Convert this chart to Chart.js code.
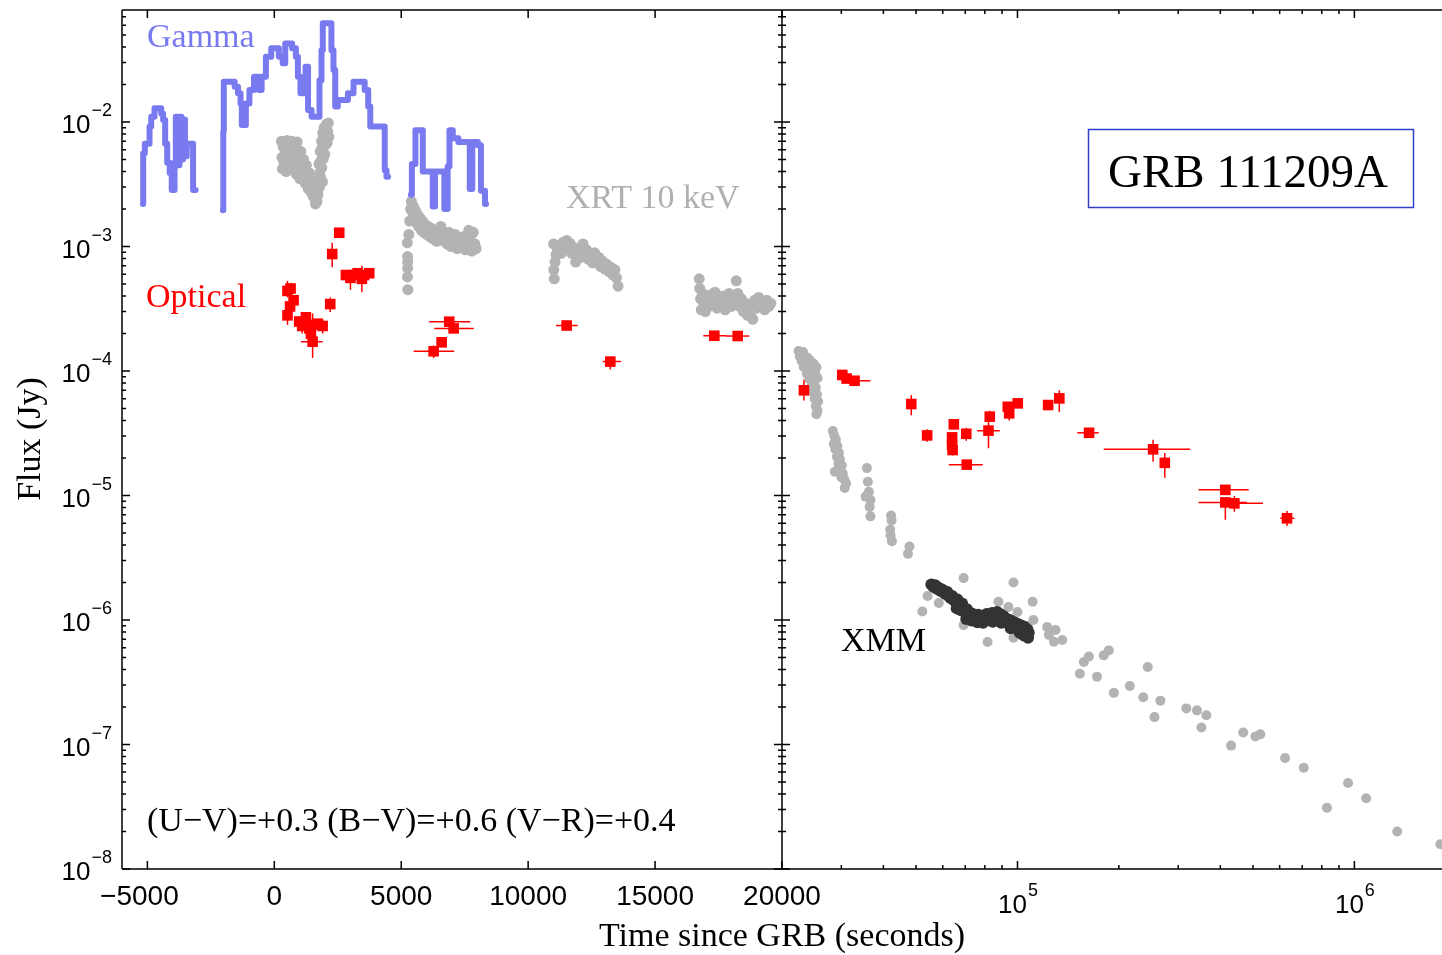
<!DOCTYPE html>
<html>
<head>
<meta charset="utf-8">
<script src="https://cdn.jsdelivr.net/npm/chart.js@4.4.1/dist/chart.umd.min.js"></script>
<style>
  html, body { margin: 0; padding: 0; background: #fff; }
  #wrap { width: 1442px; height: 955px; }
</style>
</head>
<body>
<div id="wrap"><canvas id="grb" width="1442" height="955"></canvas></div>
<script>
// ---- axis ticks ----
const xTicks = [-5000, 0, 5000, 10000, 15000, 20000];
const xTickLabels = ['\u22125000', '0', '5000', '10000', '15000', '20000'];
const x2Ticks = [1e5, 1e6];
const x2TickExps = ['5', '6'];
const yTicks = [1e-8, 1e-7, 1e-6, 1e-5, 1e-4, 1e-3, 1e-2];
const yTickExps = ['\u22128', '\u22127', '\u22126', '\u22125', '\u22124', '\u22123', '\u22122'];

// ---- gamma (BAT) light curve, histogram steps, null = gap ----
const gammaT = [
    -5175, -5165, -5100, -4915, -4850, -4720, -4455, -4380, -4300, -4220, -4120, -4040, -3930, -3880, -3800, -3740, -3660, -3600, -3520, -3450, -3200, -3100,
    -3000,
    -2025, -2010, -1990, -1560, -1430, -1330, -1280, -1120, -980, -800, -600, -500, -330, -120, 180, 330, 430, 700, 850, 930, 1030, 1230, 1330, 1470, 1780, 1860, 1910, 2250, 2330, 2400, 2500, 2900, 3120, 3560, 3700, 3780, 4350, 4420, 4480,
    4600,
    5380, 5420, 5560, 5850, 6240, 6330, 6700, 6830, 6900, 7030, 7250, 7700, 7800, 8020, 8140, 8300, 8340
];
const gammaF = [
    2.2e-3, 5.6e-3, 6.7e-3, 9.2e-3, 1.1e-2, 1.29e-2, 1.17e-2, 1.04e-2, 6.7e-3, 4.7e-3, 3.9e-3, 2.85e-3, 4.7e-3, 1.1e-2, 4.5e-3, 1.1e-2, 5.0e-3, 1.05e-2, 5.3e-3, 6.7e-3, 2.85e-3, 2.85e-3,
    null,
    1.96e-3, 8.4e-3, 2.11e-2, 1.92e-2, 1.70e-2, 1.41e-2, 9.46e-3, 1.41e-2, 1.81e-2, 2.31e-2, 1.81e-2, 2.31e-2, 3.34e-2, 3.91e-2, 3.34e-2, 2.96e-2, 4.28e-2, 3.91e-2, 3.34e-2, 2.31e-2, 1.70e-2, 2.78e-2, 1.25e-2, 1.10e-2, 2.17e-2, 3.78e-2, 6.2e-2, 3.78e-2, 2.62e-2, 1.33e-2, 1.50e-2, 1.70e-2, 2.11e-2, 1.81e-2, 1.33e-2, 9.2e-3, 4.1e-3, 3.63e-3, 3.63e-3,
    null,
    2.6e-3, 4.6e-3, 8.6e-3, 4.0e-3, 2.1e-3, 4.0e-3, 2.0e-3, 4.4e-3, 8.6e-3, 7.4e-3, 6.9e-3, 2.9e-3, 6.9e-3, 6.5e-3, 2.8e-3, 2.2e-3, 2.2e-3
];

// ---- XRT 10 keV, left (linear time) ----
const xrtLT = [
    280, 300, 320, 350, 380, 420, 440, 470, 500, 530, 560, 600, 640, 660, 700, 740, 770, 800, 840, 870,
    900, 940, 980, 1010, 1040, 1080, 1120, 1150, 1190, 1230, 1260, 1300, 1340, 1380, 1420, 1460, 1500, 1540, 1580, 1620,
    1650, 1680, 1700, 1720, 1740, 1760, 1780, 1790, 1810, 1820, 1840, 1860, 1870, 1880, 1900, 1910, 1930, 1940, 1960, 1990,
    2000, 2020, 2060, 2080, 2100, 2130, 2150,
    5240, 5250, 5255, 5250, 5245, 5260, 5300, 5330, 5370, 5400, 5440, 5480, 5520, 5560, 5600, 5640, 5690, 5740, 5790, 5840,
    5890, 5940, 6000, 6060, 6120, 6180, 6250, 6320, 6400, 6480, 6560, 6640, 6720, 6800, 6880, 6960, 7040, 7120, 7200, 7280,
    7360, 7440, 7520, 7600, 7660, 7720, 7780, 7840, 7900, 7950,
    11000, 11010, 11030, 11060, 11100, 11150, 11220, 11300, 11380, 11450, 11520, 11580, 11650, 11720, 11800, 11870, 11940, 12000, 12080, 12160,
    12230, 12300, 12380, 12460, 12540, 12620, 12700, 12780, 12860, 12940, 13020, 13100, 13180, 13260, 13340, 13420, 13480, 13540,
    16740, 16760, 16790, 16820, 16870, 16920, 16980, 17050, 17120, 17200, 17280, 17360, 17440, 17520, 17600, 17680, 17760, 17840, 17920, 18000,
    18080, 18160, 18200, 18260, 18330, 18400, 18480, 18560, 18640, 18720, 18800, 18850, 18920, 19000, 19080, 19160, 19240, 19320, 19400, 19480, 19560
];
const xrtLF = [
    7.0e-3, 5.2e-3, 4.2e-3, 6.3e-3, 4.7e-3, 6.8e-3, 5.6e-3, 4.0e-3, 7.1e-3, 6.0e-3, 4.9e-3, 6.6e-3, 5.4e-3, 4.3e-3, 7.0e-3, 5.9e-3, 4.6e-3, 6.5e-3, 5.1e-3, 3.8e-3,
    6.9e-3, 5.5e-3, 4.2e-3, 3.5e-3, 5.8e-3, 4.6e-3, 3.6e-3, 5.0e-3, 4.1e-3, 3.2e-3, 4.5e-3, 3.7e-3, 2.9e-3, 3.9e-3, 3.2e-3, 2.7e-3, 3.4e-3, 2.5e-3, 2.9e-3, 2.2e-3,
    2.45e-3, 2.3e-3, 2.8e-3, 2.6e-3, 3.4e-3, 4.6e-3, 3.0e-3, 3.9e-3, 5.8e-3, 3.6e-3, 4.9e-3, 7.0e-3, 4.3e-3, 6.2e-3, 3.3e-3, 8.2e-3, 5.1e-3, 7.4e-3, 9.0e-3, 5.5e-3,
    7.8e-3, 6.6e-3, 9.6e-3, 6.8e-3, 8.4e-3, 9.8e-3, 7.6e-3,
    1.07e-3, 8.3e-4, 7.5e-4, 6.7e-4, 5.7e-4, 4.5e-4, 1.25e-3, 1.6e-3, 2.0e-3, 2.3e-3, 1.9e-3, 2.1e-3, 1.7e-3, 1.95e-3, 1.55e-3, 1.8e-3, 1.45e-3, 1.7e-3, 1.35e-3, 1.6e-3,
    1.3e-3, 1.5e-3, 1.25e-3, 1.45e-3, 1.2e-3, 1.4e-3, 1.15e-3, 1.32e-3, 1.1e-3, 1.28e-3, 1.45e-3, 1.12e-3, 1.22e-3, 1.05e-3, 1.3e-3, 1.0e-3, 1.15e-3, 1.25e-3, 9.6e-4, 1.1e-3,
    1.0e-3, 1.2e-3, 9.4e-4, 1.05e-3, 1.35e-3, 1.15e-3, 9.2e-4, 1.3e-3, 1.05e-3, 9.6e-4,
    1.05e-3, 6.5e-4, 5.5e-4, 7.5e-4, 8.6e-4, 9.6e-4, 1.0e-3, 8.8e-4, 1.08e-3, 9.6e-4, 1.12e-3, 1.0e-3, 1.06e-3, 8.8e-4, 9.8e-4, 7.5e-4, 8.4e-4, 9.2e-4, 8.2e-4, 1.05e-3,
    8.6e-4, 9.4e-4, 7.9e-4, 8.6e-4, 7.4e-4, 8.9e-4, 7.6e-4, 8.2e-4, 6.9e-4, 7.6e-4, 6.6e-4, 7.2e-4, 6.3e-4, 6.8e-4, 5.9e-4, 6.5e-4, 5.6e-4, 4.8e-4,
    5.5e-4, 4.6e-4, 3.8e-4, 3.1e-4, 4.2e-4, 3.5e-4, 3.0e-4, 3.9e-4, 3.3e-4, 4.1e-4, 3.5e-4, 4.3e-4, 3.2e-4, 3.8e-4, 3.4e-4, 4.0e-4, 3.1e-4, 3.6e-4, 4.2e-4, 3.3e-4,
    3.8e-4, 3.5e-4, 5.3e-4, 4.2e-4, 3.3e-4, 3.8e-4, 3.0e-4, 3.5e-4, 2.8e-4, 3.3e-4, 2.7e-4, 2.6e-4, 3.7e-4, 3.2e-4, 3.9e-4, 3.4e-4, 3.6e-4, 3.1e-4, 3.7e-4, 3.3e-4, 3.5e-4
];

// ---- XRT 10 keV, right (log time) ----
const xrtRT = [
    22400, 22700, 23100, 22600, 23300, 23800, 22900, 23600, 24200, 24800, 23200, 24000, 24600, 25300, 23700, 24400, 25100, 24100, 24900, 25500,
    24500, 25200, 24700, 25400, 25000, 25600, 25200, 25500, 25300,
    28300, 28600, 28900, 28500, 29200, 28800, 29500, 29100, 29700, 29400, 30100, 29800, 28700, 30300, 30000, 30600, 31000, 30700,
    35730, 35970, 36220, 35400, 36600, 36400, 36600,
    42140, 42300, 41900, 42000, 42400, 47300, 47800,
    52200, 54100, 58400, 69200, 97300, 69200, 81500, 87800, 94000, 100000, 110900, 111500, 97300, 107100,
    122500, 129700, 123900, 128300, 135800, 157400, 162900, 153100, 172200, 180300, 186600, 193200, 215500, 243600, 236200, 265500,
    255000, 317100, 341000, 363600, 351500, 430600, 467700, 508500, 526000, 622700, 707400, 957900, 829100, 1084000, 1340000, 1800000
];
const xrtRF = [
    1.45e-4, 1.38e-4, 1.42e-4, 1.3e-4, 1.32e-4, 1.28e-4, 1.2e-4, 1.18e-4, 1.22e-4, 1.15e-4, 1.08e-4, 1.05e-4, 1.02e-4, 1.07e-4, 9.5e-5, 9.2e-5, 9.6e-5, 8.6e-5, 8.3e-5, 8.8e-5,
    7.6e-5, 7.4e-5, 6.8e-5, 6.5e-5, 6.0e-5, 5.7e-5, 5.2e-5, 4.8e-5, 4.5e-5,
    3.3e-5, 3.0e-5, 2.8e-5, 2.6e-5, 2.5e-5, 2.35e-5, 2.2e-5, 2.05e-5, 1.95e-5, 1.8e-5, 1.75e-5, 1.62e-5, 1.55e-5, 1.5e-5, 1.4e-5, 1.35e-5, 1.25e-5, 1.15e-5,
    1.66e-5, 1.29e-5, 1.07e-5, 9.8e-6, 9.2e-6, 8.1e-6, 6.8e-6,
    6.9e-6, 6.3e-6, 5.3e-6, 4.8e-6, 4.3e-6, 3.4e-6, 3.9e-6,
    1.17e-6, 1.56e-6, 1.37e-6, 2.17e-6, 2.0e-6, 9.1e-7, 6.65e-7, 1.4e-6, 1.27e-6, 1.16e-6, 1.4e-6, 1.0e-6, 7.2e-7, 8.9e-7,
    8.8e-7, 8.3e-7, 7.6e-7, 6.7e-7, 6.9e-7, 4.6e-7, 5.1e-7, 3.7e-7, 3.5e-7, 5.2e-7, 5.7e-7, 2.6e-7, 2.95e-7, 4.2e-7, 2.4e-7, 2.25e-7,
    1.66e-7, 1.95e-7, 1.88e-7, 1.72e-7, 1.37e-7, 9.8e-8, 1.25e-7, 1.16e-7, 1.21e-7, 7.8e-8, 6.5e-8, 4.9e-8, 3.1e-8, 3.7e-8, 2.0e-8, 1.58e-8
];

// ---- XMM ----
const xmmT = [
    55500, 56300, 57000, 57600, 58300, 59000, 59700, 60400, 61200, 61900, 62600, 63300, 64000, 64800, 65500, 66300, 67000, 67800, 68500, 69300,
    70000, 70800, 71600, 72400, 73200, 74000, 74800, 75600, 76500, 77400, 78300, 79200, 80100, 81000, 82000, 83000, 84000, 85000, 86000, 87000,
    88000, 89000, 90000, 91000, 92000, 93000, 94000, 95000, 96000, 97000, 98000, 99000, 100000, 101000, 102000, 103000, 104000, 105000, 106000, 107000,
    107500, 108000,
    66000, 68000, 70500, 73000, 76000, 79000, 84500, 89500, 95500, 101500, 104500
];
const xmmF = [
    1.93e-6, 1.85e-6, 1.9e-6, 1.78e-6, 1.82e-6, 1.72e-6, 1.76e-6, 1.66e-6, 1.62e-6, 1.68e-6, 1.55e-6, 1.5e-6, 1.56e-6, 1.44e-6, 1.4e-6, 1.46e-6, 1.33e-6, 1.28e-6, 1.36e-6, 1.2e-6,
    1.15e-6, 1.22e-6, 1.1e-6, 1.06e-6, 1.13e-6, 1.02e-6, 1.08e-6, 1.0e-6, 1.1e-6, 1.04e-6, 9.8e-7, 1.08e-6, 1.02e-6, 1.12e-6, 1.0e-6, 1.07e-6, 1.14e-6, 1.04e-6, 1.1e-6, 1.16e-6,
    1.05e-6, 1.11e-6, 1.0e-6, 1.07e-6, 9.7e-7, 1.02e-6, 9.4e-7, 1.0e-6, 9.1e-7, 9.7e-7, 8.8e-7, 9.4e-7, 8.6e-7, 9.2e-7, 8.4e-7, 9.0e-7, 8.1e-7, 8.8e-7, 7.6e-7, 8.4e-7,
    7.2e-7, 7.9e-7,
    1.24e-6, 1.2e-6, 1.02e-6, 9.9e-7, 9.6e-7, 9.5e-7, 9.7e-7, 9.5e-7, 8.6e-7, 7.9e-7, 7.5e-7
];

// ---- optical, left (linear time); null = no error bar ----
const optLT = [520, 640, 760, 620, 520, 980, 1100, 1245, 1380, 1509, 1442, 1509, 1706, 1903, 2203, 2281, 2557, 2821, 3000, 3150, 3282, 3450, 3542, 3739, 6891, 7065, 6592, 6277, 11516, 13236, 17333, 18255];
const optLF = [4.4e-4, 4.6e-4, 3.7e-4, 3.3e-4, 2.8e-4, 2.5e-4, 2.3e-4, 2.7e-4, 2.2e-4, 2.35e-4, 2.0e-4, 1.72e-4, 2.4e-4, 2.3e-4, 3.45e-4, 8.7e-4, 1.29e-3, 5.9e-4, 5.6e-4, 5.9e-4, 6.1e-4, 5.5e-4, 5.9e-4, 6.1e-4, 2.49e-4, 2.2e-4, 1.7e-4, 1.44e-4, 2.32e-4, 1.19e-4, 1.92e-4, 1.91e-4];
const optLTlo = [null, null, null, null, null, null, null, null, null, null, null, 1050, null, null, null, null, null, null, null, null, null, null, null, null, 6103, 6300, null, 5489, 11096, 12936, 16900, 17794];
const optLThi = [null, null, null, null, null, null, null, null, null, null, null, 1900, null, null, null, null, null, null, null, null, null, null, null, null, 7719, 7853, null, 7089, 11950, 13656, 17794, 18712];
const optLFlo = [3.9e-4, 4.1e-4, null, null, 2.35e-4, null, 2.0e-4, null, null, 2.0e-4, null, 1.27e-4, null, 2.0e-4, 2.98e-4, 6.8e-4, null, null, 4.5e-4, null, null, 4.3e-4, null, null, null, null, null, 1.27e-4, null, 1.03e-4, null, null];
const optLFhi = [5.3e-4, 5.1e-4, null, null, 3.2e-4, null, 2.7e-4, null, null, 2.9e-4, null, 2.1e-4, null, 2.6e-4, 3.9e-4, 1.07e-3, null, null, 6.3e-4, null, null, 7.0e-4, null, null, null, null, null, 1.6e-4, null, 1.3e-4, null, null];

// ---- optical, right (log time) ----
const optRT = [23230, 30190, 31100, 32840, 48390, 53930, 64730, 63960, 63960, 64190, 70460, 70700, 82750, 82030, 93600, 94480, 100200, 123300, 133100, 163100, 252700, 273700, 414000, 414000, 440300, 631000];
const optRF = [7.0e-5, 9.3e-5, 8.7e-5, 8.35e-5, 5.43e-5, 3.04e-5, 3.73e-5, 2.93e-5, 2.55e-5, 2.32e-5, 3.13e-5, 1.77e-5, 4.3e-5, 3.32e-5, 5.16e-5, 4.57e-5, 5.5e-5, 5.33e-5, 6.03e-5, 3.19e-5, 2.35e-5, 1.83e-5, 1.11e-5, 8.8e-6, 8.65e-6, 6.56e-6];
const optRTlo = [null, null, null, 31930, null, null, null, null, null, null, null, 62550, null, 75960, null, null, null, null, null, 150400, 180300, null, 344700, 344700, 420000, 602400];
const optRThi = [null, null, null, 36620, null, null, null, null, null, null, null, 78880, null, 88590, null, null, null, null, null, 174300, 325600, null, 485600, 480000, 535600, 663600];
const optRFlo = [5.8e-5, null, null, null, 4.4e-5, 2.7e-5, 3.4e-5, null, null, 2.1e-5, 2.75e-5, null, 3.9e-5, 2.4e-5, 4.8e-5, 4.0e-5, 5.1e-5, 5.0e-5, 4.7e-5, null, 1.87e-5, 1.39e-5, null, 6.4e-6, 7.4e-6, 5.7e-6];
const optRFhi = [8.5e-5, null, null, null, 6.4e-5, 3.4e-5, 4.0e-5, null, null, 2.32e-5, 3.5e-5, null, 4.8e-5, 3.9e-5, 5.5e-5, 5.0e-5, 5.9e-5, 5.6e-5, 7.0e-5, null, 2.8e-5, 2.2e-5, 1.3e-5, 8.8e-6, 9.9e-6, 7.5e-6];

const GAMMA_COL = '#7a7af0';
const XRT_COL = '#b3b3b3';
const XMM_COL = '#333333';
const OPT_COL = '#ff0000';
const SERIF = '"Liberation Serif", "Times New Roman", serif';
const SANS = '"Liberation Sans", Helvetica, Arial, sans-serif';

function pts(xs, ys) {
    return xs.map((x, i) => ({ x: x, y: ys[i] }));
}

function drawErrors(ctx, xs, ys, t, f, tlo, thi, flo, fhi) {
    for (let i = 0; i < t.length; i++) {
        const px = xs.getPixelForValue(t[i]);
        const py = ys.getPixelForValue(f[i]);
        ctx.beginPath();
        if (tlo[i] !== null) {
            ctx.moveTo(xs.getPixelForValue(tlo[i]), py);
            ctx.lineTo(xs.getPixelForValue(thi[i]), py);
        }
        if (flo[i] !== null) {
            ctx.moveTo(px, ys.getPixelForValue(flo[i]));
            ctx.lineTo(px, ys.getPixelForValue(fhi[i]));
        }
        ctx.stroke();
    }
}

// "10" with a raised exponent
function drawPow(ctx, x, base, exp, align) {
    ctx.font = '26px ' + SANS;
    const w1 = ctx.measureText('10').width;
    ctx.font = '18px ' + SANS;
    const w2 = ctx.measureText(exp).width;
    const x0 = align === 'right' ? x - w1 - w2 - 1 : x - (w1 + w2) / 2;
    ctx.textAlign = 'left';
    ctx.font = '26px ' + SANS;
    ctx.fillText('10', x0, base);
    ctx.font = '18px ' + SANS;
    ctx.fillText(exp, x0 + w1 + 1, base - 17);
}

const framePlugin = {
    id: 'frame',
    afterDatasetsDraw(chart) {
        const ctx = chart.ctx;
        ctx.save();
        ctx.strokeStyle = OPT_COL;
        ctx.lineWidth = 1.5;
        drawErrors(ctx, chart.scales.x, chart.scales.y, optLT, optLF, optLTlo, optLThi, optLFlo, optLFhi);
        drawErrors(ctx, chart.scales.x2, chart.scales.y, optRT, optRF, optRTlo, optRThi, optRFlo, optRFhi);
        ctx.restore();
    },
    afterDraw(chart) {
        const ctx = chart.ctx;
        const a = chart.chartArea;
        const xs = chart.scales.x, x2 = chart.scales.x2, ys = chart.scales.y;
        const divX = Math.round(xs.right);
        ctx.save();
        ctx.strokeStyle = '#000';
        ctx.lineWidth = 1.5;

        // frame + divider
        ctx.beginPath();
        ctx.moveTo(a.left, a.top); ctx.lineTo(a.right, a.top);
        ctx.moveTo(a.left, a.top); ctx.lineTo(a.left, a.bottom);
        ctx.moveTo(a.left, a.bottom); ctx.lineTo(a.right, a.bottom);
        ctx.moveTo(divX, a.top); ctx.lineTo(divX, a.bottom);
        ctx.stroke();

        // y ticks: left axis inward, divider both sides
        ctx.beginPath();
        for (let d = -8; d <= -2; d++) {
            for (let m = 1; m <= 9; m++) {
                const v = m * Math.pow(10, d);
                if (v > ys.max) break;
                const py = ys.getPixelForValue(v);
                const len = m === 1 ? 8 : 4;
                ctx.moveTo(a.left, py); ctx.lineTo(a.left + len, py);
                ctx.moveTo(divX - len, py); ctx.lineTo(divX + len, py);
            }
        }
        // left x ticks
        xTicks.forEach(v => {
            const px = xs.getPixelForValue(v);
            ctx.moveTo(px, a.bottom); ctx.lineTo(px, a.bottom - 8);
            ctx.moveTo(px, a.top); ctx.lineTo(px, a.top + 8);
        });
        // right log x ticks
        for (let d = 4; d <= 6; d++) {
            for (let m = 1; m <= 9; m++) {
                const v = m * Math.pow(10, d);
                if (v <= x2.min || v > x2.max) continue;
                const px = x2.getPixelForValue(v);
                const len = m === 1 ? 8 : 4;
                ctx.moveTo(px, a.bottom); ctx.lineTo(px, a.bottom - len);
                ctx.moveTo(px, a.top); ctx.lineTo(px, a.top + len);
            }
        }
        ctx.stroke();

        // tick labels
        ctx.fillStyle = '#000';
        ctx.textBaseline = 'alphabetic';
        ctx.font = '28px ' + SANS;
        ctx.textAlign = 'center';
        xTicks.forEach((v, i) => {
            const shift = v < 0 ? -8 : 0;
            ctx.fillText(xTickLabels[i], xs.getPixelForValue(v) + shift, a.bottom + 36);
        });
        x2Ticks.forEach((v, i) => {
            drawPow(ctx, x2.getPixelForValue(v), a.bottom + 44, x2TickExps[i], 'center');
        });
        yTicks.forEach((v, i) => {
            drawPow(ctx, a.left - 10, ys.getPixelForValue(v) + 11, yTickExps[i], 'right');
        });

        // axis titles
        ctx.font = '34px ' + SERIF;
        ctx.textAlign = 'center';
        ctx.fillText('Time since GRB (seconds)', divX, 946);
        ctx.save();
        ctx.translate(40, 439);
        ctx.rotate(-Math.PI / 2);
        ctx.fillText('Flux (Jy)', 0, 0);
        ctx.restore();

        // annotations
        ctx.textAlign = 'left';
        ctx.fillStyle = GAMMA_COL;
        ctx.fillText('Gamma', 147, 47);
        ctx.fillStyle = '#b0b0b0';
        ctx.fillText('XRT 10 keV', 566, 208);
        ctx.fillStyle = OPT_COL;
        ctx.fillText('Optical', 146, 307);
        ctx.fillStyle = '#000';
        ctx.fillText('XMM', 841, 651);
        ctx.fillText('(U\u2212V)=+0.3 (B\u2212V)=+0.6 (V\u2212R)=+0.4', 147, 831);

        ctx.strokeStyle = '#2f3fcc';
        ctx.lineWidth = 1.5;
        ctx.strokeRect(1088.5, 129.5, 325, 78);
        ctx.font = '47px ' + SERIF;
        ctx.fillText('GRB 111209A', 1108, 187);
        ctx.restore();
    }
};

const hiddenAxis = {
    ticks: { display: false },
    grid: { display: false },
    border: { display: false }
};

new Chart(document.getElementById('grb'), {
    type: 'scatter',
    data: {
        datasets: [
            {
                label: 'Optical', data: pts(optLT, optLF), xAxisID: 'x', yAxisID: 'y', order: 1,
                pointStyle: 'rect', pointRadius: 7.5, pointBackgroundColor: OPT_COL, pointBorderWidth: 0
            },
            {
                label: 'Optical late', data: pts(optRT, optRF), xAxisID: 'x2', yAxisID: 'y', order: 1,
                pointStyle: 'rect', pointRadius: 7.5, pointBackgroundColor: OPT_COL, pointBorderWidth: 0
            },
            {
                label: 'Gamma', type: 'line', data: pts(gammaT, gammaF), xAxisID: 'x', yAxisID: 'y', order: 3,
                stepped: true, spanGaps: false, borderColor: GAMMA_COL, borderWidth: 6,
                borderJoinStyle: 'round', borderCapStyle: 'round', pointRadius: 0, fill: false
            },
            {
                label: 'XMM', data: pts(xmmT, xmmF), xAxisID: 'x2', yAxisID: 'y', order: 4,
                pointRadius: 6, pointBackgroundColor: XMM_COL, pointBorderWidth: 0
            },
            {
                label: 'XRT', data: pts(xrtLT, xrtLF), xAxisID: 'x', yAxisID: 'y', order: 5,
                pointRadius: 5.5, pointBackgroundColor: XRT_COL, pointBorderWidth: 0
            },
            {
                label: 'XRT late', data: pts(xrtRT, xrtRF), xAxisID: 'x2', yAxisID: 'y', order: 5,
                pointRadius: 5, pointBackgroundColor: XRT_COL, pointBorderWidth: 0
            }
        ]
    },
    options: {
        responsive: false,
        animation: false,
        devicePixelRatio: 1,
        layout: { autoPadding: false, padding: { top: 10, right: 0, bottom: 0, left: 0 } },
        plugins: { legend: { display: false }, tooltip: { enabled: false } },
        scales: {
            x: {
                ...hiddenAxis, type: 'linear', position: 'bottom', stack: 'time', stackWeight: 1,
                min: -6000, max: 20000,
                afterFit: (scale) => { scale.height = 86; }
            },
            x2: {
                ...hiddenAxis, type: 'logarithmic', position: 'bottom', stack: 'time', stackWeight: 1,
                min: 20000, max: 1.82e6,
                afterFit: (scale) => { scale.height = 86; }
            },
            y: {
                ...hiddenAxis, type: 'logarithmic', position: 'left',
                min: 1e-8, max: 0.0794,
                afterFit: (scale) => { scale.width = 122; }
            }
        }
    },
    plugins: [framePlugin]
});
</script>
</body>
</html>
